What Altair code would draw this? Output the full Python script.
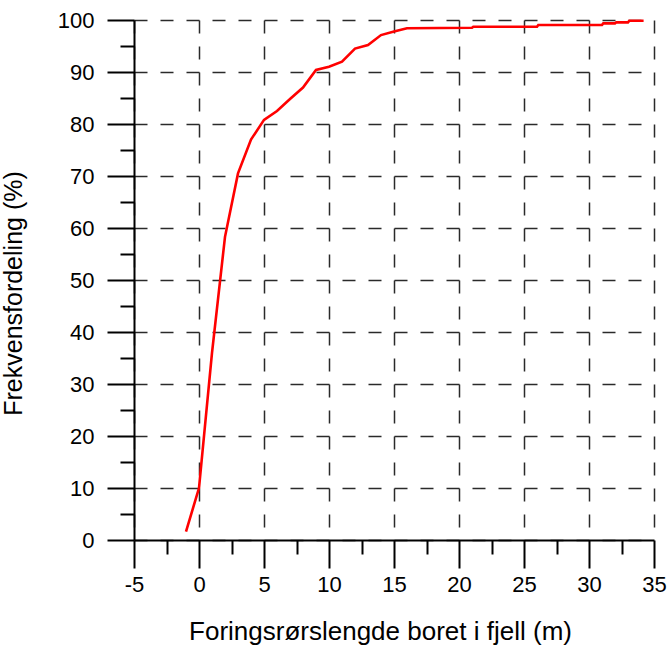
import altair as alt
import pandas as pd

# Cumulative frequency curve
casing_len = [-1, 0, 1, 2, 3, 4, 5, 6, 7, 8, 9, 10, 11, 12, 13, 14, 15, 16,
              21, 21.1, 26, 26.1, 31, 31.1, 32, 32.1, 33, 33.1, 34.2]
freq_pct = [1.6, 10, 36, 58.3, 70.5, 77, 80.8, 82.5, 84.8, 87, 90.4, 91, 92, 94.5,
            95.2, 97.1, 97.8, 98.4, 98.5, 98.7, 98.7, 99.05, 99.05, 99.35, 99.35,
            99.55, 99.55, 99.87, 99.87]

x_major = [-5, 0, 5, 10, 15, 20, 25, 30, 35]
x_minor = [-2.5, 2.5, 7.5, 12.5, 17.5, 22.5, 27.5, 32.5]
y_major = [0, 10, 20, 30, 40, 50, 60, 70, 80, 90, 100]
y_minor = [5, 15, 25, 35, 45, 55, 65, 75, 85, 95]

x_title = "Foringsrørslengde boret i fjell (m)"
y_title = "Frekvensfordeling (%)"

df = pd.DataFrame({"x": casing_len, "y": freq_pct})

FONT = "Liberation Sans"
xscale = alt.Scale(domain=[-5, 35], nice=False, zero=False)
yscale = alt.Scale(domain=[0, 100], nice=False, zero=False)

common_major = dict(
    tickWidth=2, tickColor="black", domainColor="black", domainWidth=2,
    grid=True, gridColor="#2a2a2a", gridDash=[13, 13], gridWidth=1.5,
    labelFont=FONT, labelFontSize=22, labelColor="black",
    labelFlush=False, labelOverlap=False,
    labelExpr="'' + datum.value",
    titleFont=FONT, titleFontWeight="normal", titleColor="black",
)

main = alt.Chart(df).mark_line(color="#ff0000", strokeWidth=2.6).encode(
    x=alt.X("x:Q", scale=xscale, axis=alt.Axis(
        orient="bottom", values=x_major, tickSize=28, labelPadding=6,
        title=x_title, titleFontSize=26, titleX=246, titleY=99,
        titleBaseline="alphabetic", titleAlign="center", **common_major)),
    y=alt.Y("y:Q", scale=yscale, axis=alt.Axis(
        orient="left", values=y_major, tickSize=27, labelPadding=13,
        title=y_title, titleFontSize=25, titleAngle=270, titleX=-113, titleY=273,
        titleBaseline="alphabetic", titleAlign="center", **common_major)),
)

minor = alt.Chart(df).mark_line(opacity=0).encode(
    x=alt.X("x:Q", scale=xscale, axis=alt.Axis(
        orient="bottom", values=x_minor, tickSize=14, tickWidth=2,
        tickColor="black", domain=False, grid=False, labels=False, title="")),
    y=alt.Y("y:Q", scale=yscale, axis=alt.Axis(
        orient="left", values=y_minor, tickSize=14, tickWidth=2,
        tickColor="black", domain=False, grid=False, labels=False, title="")),
)

chart = alt.layer(minor, main).resolve_axis(
    x="independent", y="independent"
).properties(
    width=520, height=520,
    autosize=alt.AutoSizeParams(type="none"),
    padding={"left": 134, "top": 20, "right": 15, "bottom": 106},
    background="white",
).configure_view(stroke=None)

chart.save("out.html", embed_options={"renderer": "svg", "actions": False})
